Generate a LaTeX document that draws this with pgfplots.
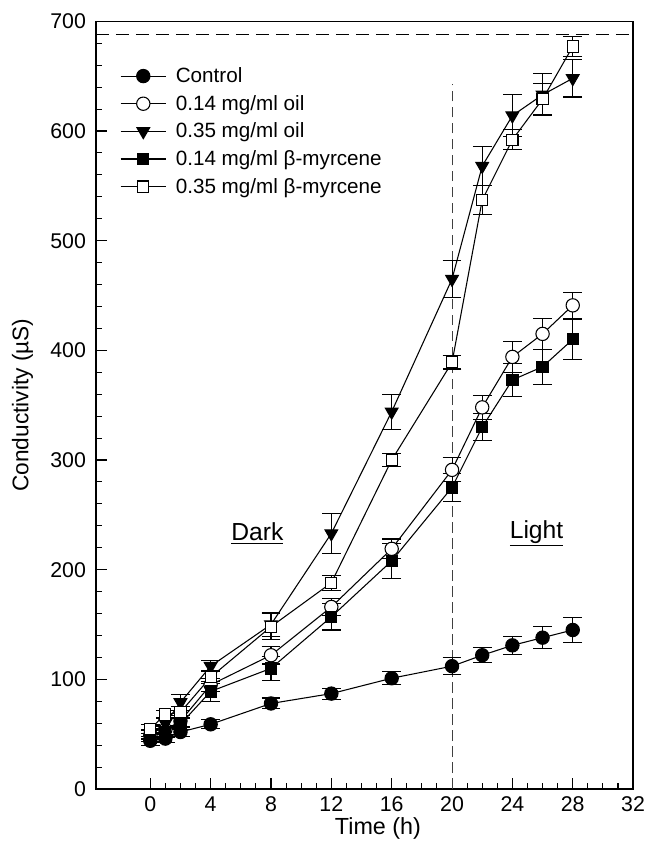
\documentclass[border=0pt]{standalone}
\usepackage{pgfplots}
\pgfplotsset{compat=1.18}
\usepackage{fontspec}
\setmainfont{Liberation Sans}

% data: x, y, error
\pgfplotstableread{
x y e
0 44 4
1 46 4
2 52 4
4 59 4
8 78 5
12 87 5
16 101 6
20 112 8
22 122 7
24 131 8
26 138 10
28 145 11
}\control
\pgfplotstableread{
x y e
0 49 4
1 54 4
2 62 5
4 95 6
8 122 8
12 166 8
16 219 9
20 291 11
22 348 11
24 394 14
26 415 14
28 441 12
}\oillow
\pgfplotstableread{
x y e
0 50 4
1 60 5
2 79 7
4 112 5
8 150 11
12 233 18
16 344 16
20 465 17
22 568 18
24 614 19
26 633 19
28 648 17
}\oilhigh
\pgfplotstableread{
x y e
0 47 4
1 52 5
2 59 5
4 89 9
8 110 11
12 157 12
16 208 16
20 275 13
22 330 12
24 373 15
26 385 16
28 410 18
}\myrlow
\pgfplotstableread{
x y e
0 55 4
1 68 4
2 70 5
4 102 6
8 148 12
12 188 7
16 300 6
20 389 6
22 537 13
24 592 9
26 629 14
28 677 9
}\myrhigh

\begin{document}
\begin{tikzpicture}
\begin{axis}[
  scale only axis,
  width=403pt, height=576pt,
  xmin=-3.6, xmax=32,
  ymin=0, ymax=700,
  xtick={0,4,...,32},
  ytick={0,100,...,700},
  minor x tick num=3,
  minor y tick num=4,
  tick pos=left,
  tick align=inside,
  major tick length=8pt,
  minor tick length=4.5pt,
  axis line style={line width=0.9pt},
  tick style={line width=0.8pt, black},
  ticklabel style={font=\fontsize{16}{19}\selectfont},
  yticklabel style={xshift=-4pt},
  xticklabel style={yshift=-2pt},
  /pgf/number format/assume math mode=true,
  xlabel={Time (h)},
  ylabel={Conductivity (µS)},
  xlabel style={font=\fontsize{17.5}{20}\selectfont, at={(ticklabel cs:0.525)}, anchor=near ticklabel, yshift=2pt},
  ylabel style={font=\fontsize{17}{20}\selectfont, yshift=6pt},
  legend style={at={(0.037,0.947)}, anchor=north west, draw=none, fill=none,
    font=\fontsize{15.5}{18.5}\selectfont, row sep=4pt,
    /tikz/every odd column/.append style={column sep=5pt}},
  legend cell align=left,
  legend image code/.code={
    \draw[mark repeat=2,mark phase=2] plot coordinates {(0pt,0pt) (17pt,0pt) (34pt,0pt)};
  },
  every axis plot/.append style={line width=0.8pt, black},
  error bars/error bar style={line width=0.8pt, black},
  error bars/error mark options={rotate=90, mark size=7pt, line width=0.8pt, black},
  clip=false,
]
\addplot[forget plot, dashed, dash pattern=on 10pt off 5pt, line width=0.7pt] coordinates {(-3.6,688) (32,688)};
\addplot[forget plot, black!75, dash pattern=on 8pt off 4pt, line width=0.7pt] coordinates {(20,0) (20,643)};

\addplot[mark=*, mark size=5pt, mark options={fill=black},
  error bars/.cd, y dir=both, y explicit] table[x=x, y=y, y error=e] {\control};
\addlegendentry{Control}

\addplot[mark=*, mark size=5pt, mark options={fill=white},
  error bars/.cd, y dir=both, y explicit] table[x=x, y=y, y error=e] {\oillow};
\addlegendentry{0.14 mg/ml oil}

\addplot[mark=triangle*, mark size=5.5pt, mark options={fill=black, rotate=180},
  error bars/.cd, y dir=both, y explicit] table[x=x, y=y, y error=e] {\oilhigh};
\addlegendentry{0.35 mg/ml oil}

\addplot[mark=square*, mark size=4.2pt, mark options={fill=black},
  error bars/.cd, y dir=both, y explicit] table[x=x, y=y, y error=e] {\myrlow};
\addlegendentry{0.14 mg/ml β-myrcene}

\addplot[mark=square*, mark size=4.2pt, mark options={fill=white},
  error bars/.cd, y dir=both, y explicit] table[x=x, y=y, y error=e] {\myrhigh};
\addlegendentry{0.35 mg/ml β-myrcene}

\node[font=\fontsize{18.5}{22}\selectfont] at (axis cs:7.1,233) {\underline{Dark}};
\node[font=\fontsize{18.5}{22}\selectfont] at (axis cs:25.6,233) {\underline{Light}};
\end{axis}
% page margins as in the reference
\path ([shift={(-72pt,-45pt)}]current axis.south west) rectangle ([shift={(9pt,16pt)}]current axis.north east);
\end{tikzpicture}
\end{document}
